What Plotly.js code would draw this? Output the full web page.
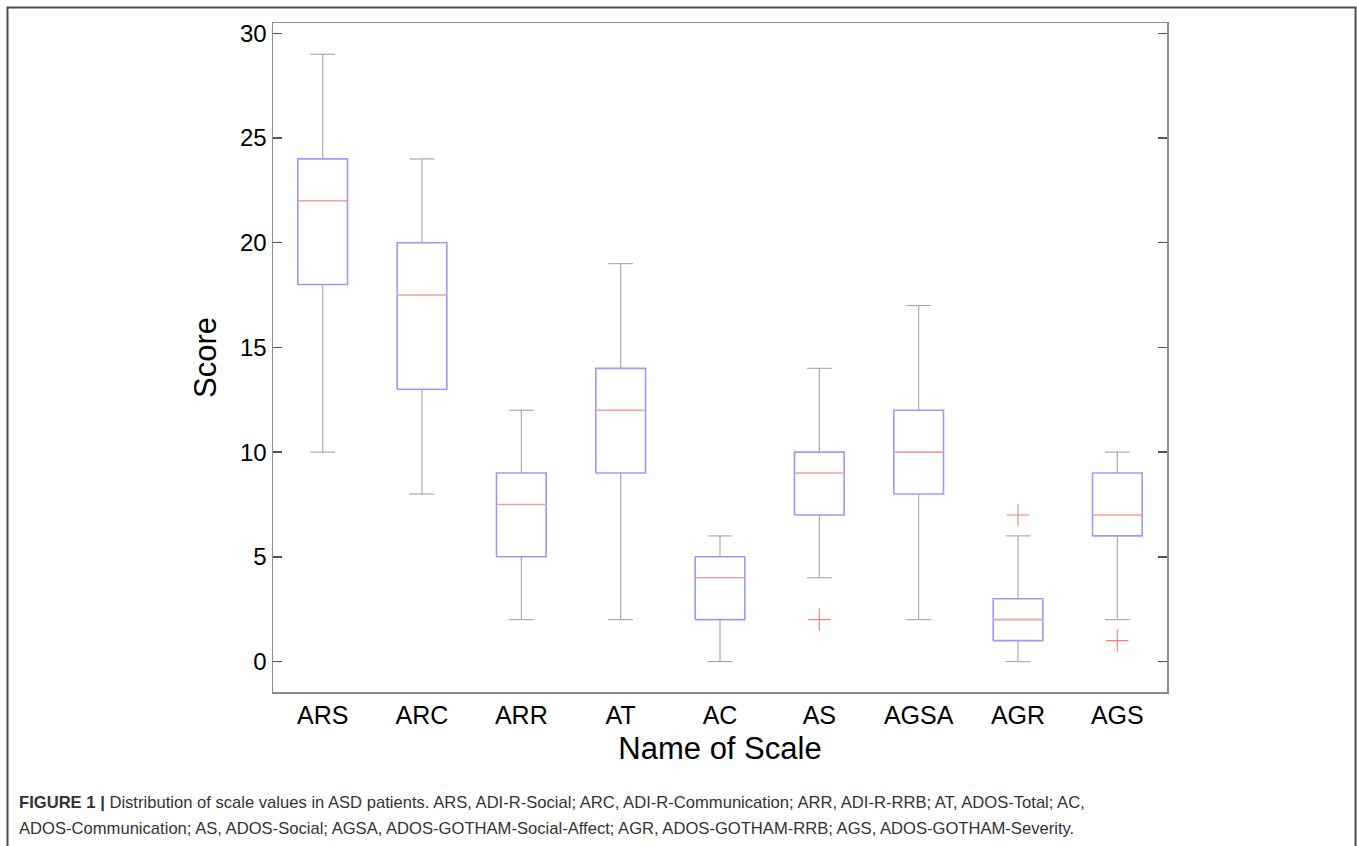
<!DOCTYPE html>
<html>
<head>
<meta charset="utf-8">
<script src="https://cdn.plot.ly/plotly-3.0.1.min.js"></script>
<style>
html,body{margin:0;padding:0;background:#fff;}
#chart{width:1357px;height:846px;}
</style>
</head>
<body>
<div id="chart"></div>
<script>
// ---- data ----
var categories = ["ARS","ARC","ARR","AT","AC","AS","AGSA","AGR","AGS"];
var upperWhisker = [29, 24, 12, 19, 6, 14, 17, 6, 10];
var q3Values     = [24, 20, 9, 14, 5, 10, 12, 3, 9];
var medianValues = [22, 17.5, 7.5, 12, 4, 9, 10, 2, 7];
var q1Values     = [18, 13, 5, 9, 2, 7, 8, 1, 6];
var lowerWhisker = [10, 8, 2, 2, 0, 4, 2, 0, 2];
var outlierCategory = ["AS", "AGR", "AGS"];
var outlierValues   = [2, 7, 1];
var yTickValues = [0, 5, 10, 15, 20, 25, 30];
var captionLine1 = '<b>FIGURE 1 |</b> Distribution of scale values in ASD patients. ARS, ADI-R-Social; ARC, ADI-R-Communication; ARR, ADI-R-RRB; AT, ADOS-Total; AC,';
var captionLine2 = 'ADOS-Communication; AS, ADOS-Social; AGSA, ADOS-GOTHAM-Social-Affect; AGR, ADOS-GOTHAM-RRB; AGS, ADOS-GOTHAM-Severity.';

// ---- build marks ----
var boxHalf = 0.25, capHalf = 0.125;
var wx = [], wy = [], bx = [], by = [], mx = [], my = [];
categories.forEach(function(c, i){
  wx.push(i, i, null, i - capHalf, i + capHalf, null);
  wy.push(q3Values[i], upperWhisker[i], null, upperWhisker[i], upperWhisker[i], null);
  wx.push(i, i, null, i - capHalf, i + capHalf, null);
  wy.push(q1Values[i], lowerWhisker[i], null, lowerWhisker[i], lowerWhisker[i], null);
  bx.push(i - boxHalf, i + boxHalf, i + boxHalf, i - boxHalf, i - boxHalf, null);
  by.push(q1Values[i], q1Values[i], q3Values[i], q3Values[i], q1Values[i], null);
  mx.push(i - boxHalf, i + boxHalf, null);
  my.push(medianValues[i], medianValues[i], null);
});
var ox = outlierCategory.map(function(c){ return categories.indexOf(c); });

var traces = [
  {x: wx, y: wy, type: 'scatter', mode: 'lines', line: {color: '#ababab', width: 1.2}, hoverinfo: 'skip'},
  {x: bx, y: by, type: 'scatter', mode: 'lines', line: {color: '#9a9aff', width: 1.6}, hoverinfo: 'skip'},
  {x: mx, y: my, type: 'scatter', mode: 'lines', line: {color: '#ff9a9a', width: 1.6}, hoverinfo: 'skip'},
  {x: ox, y: outlierValues, type: 'scatter', mode: 'markers',
   marker: {symbol: 'cross-thin-open', size: 16, color: '#ff7a7a', line: {color: '#ff7a7a', width: 1.1}}}
];

// ---- layout ----
var W = 1357, H = 846;
var mL = 273, mR = 190, mT = 23, mB = 154;
var pw = W - mL - mR, ph = H - mT - mB;
function px2x(p){ return (p - mL) / pw; }
function px2y(p){ return (H - mB - p) / ph; }
var captionFont = {family: 'Liberation Sans, Arial, sans-serif', size: 16.6, color: '#333'};

var layout = {
  width: W, height: H,
  margin: {l: mL, r: mR, t: mT, b: mB, pad: 0},
  paper_bgcolor: '#fff', plot_bgcolor: '#fff',
  showlegend: false,
  font: {family: 'Liberation Sans, Arial, sans-serif', color: '#000'},
  xaxis: {
    range: [-0.5, categories.length - 0.5],
    tickvals: categories.map(function(c, i){ return i; }),
    ticktext: categories,
    ticks: '', showgrid: false, zeroline: false,
    showline: true, mirror: true, linecolor: '#8c8c8c', linewidth: 1.5,
    tickfont: {size: 25, color: '#000'},
    title: {text: 'Name of Scale', font: {size: 31, color: '#000'}, standoff: 10}
  },
  yaxis: {
    range: [-1.455, 30.49],
    tickvals: yTickValues,
    ticks: 'inside', ticklen: 9, tickwidth: 1.5, tickcolor: '#555',
    showgrid: false, zeroline: false,
    showline: true, mirror: 'ticks', linecolor: '#8c8c8c', linewidth: 1.5,
    tickfont: {size: 24, color: '#000'},
    title: {text: 'Score', font: {size: 31, color: '#000'}, standoff: 14}
  },
  shapes: [
    {type: 'rect', xref: 'paper', yref: 'paper',
     x0: px2x(7.5), x1: px2x(1355.5), y0: px2y(852), y1: px2y(7.5),
     line: {color: '#4d4d4d', width: 2}, fillcolor: 'rgba(0,0,0,0)', layer: 'below'}
  ],
  annotations: [
    {xref: 'paper', yref: 'paper', x: px2x(17), y: px2y(802), xanchor: 'left', yanchor: 'middle',
     align: 'left', showarrow: false, font: captionFont, text: captionLine1},
    {xref: 'paper', yref: 'paper', x: px2x(17), y: px2y(828), xanchor: 'left', yanchor: 'middle',
     align: 'left', showarrow: false, font: captionFont, text: captionLine2}
  ]
};

Plotly.newPlot('chart', traces, layout, {displayModeBar: false, staticPlot: true});
</script>
</body>
</html>
